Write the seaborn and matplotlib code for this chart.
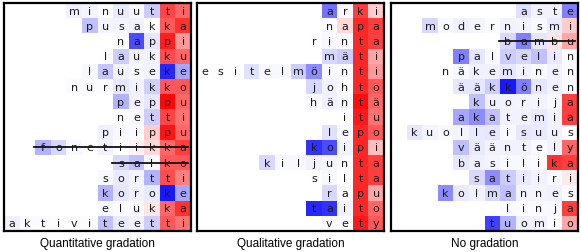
import matplotlib
matplotlib.use("Agg")
import matplotlib.pyplot as plt
import numpy as np
import seaborn as sns

N_COLS = 12

# Panel 1: quantitative gradation
quant_words = [
    "minuutti", "pusakka", "nappi", "laukku", "lauseke", "nurmikko", "peppu",
    "netti", "piippu", "fonetiikka", "salko", "sortti", "koroke", "elukka",
    "aktiviteetti",
]
quant_values = [
    [-0.06, -0.04, 0.0, -0.08, -0.03, -0.2, 0.72, 0.6],
    [-0.25, -0.04, -0.04, -0.06, 0.0, 0.65, 0.8],
    [0.0, -0.7, -0.1, 0.88, 0.4],
    [0.0, -0.2, -0.05, -0.05, 0.7, 0.6],
    [-0.03, -0.22, -0.05, -0.03, -0.05, -0.85, -0.35],
    [-0.02, -0.02, -0.02, -0.1, -0.05, -0.18, 0.65, 0.65],
    [-0.3, -0.05, -0.1, 0.97, 0.6],
    [0.0, -0.03, -0.2, 0.72, 0.55],
    [-0.06, -0.03, -0.02, 0.2, 0.92, 0.6],
    [-0.3, -0.15, -0.03, 0.0, -0.05, 0.0, 0.05, 0.15, 0.6, 0.75],
    [-0.15, -0.25, -0.03, 0.65, 0.65],
    [-0.03, -0.08, -0.04, -0.3, 0.7, 0.5],
    [-0.3, -0.1, -0.05, -0.08, -0.9, -0.35],
    [-0.03, -0.02, -0.02, 0.1, 0.6, 0.8],
    [-0.06, -0.02, -0.02, -0.01, -0.01, -0.01, -0.25, -0.08, -0.05, -0.2, 0.65, 0.55],
]
quant_struck = ["fonetiikka", "salko"]

# Panel 2: qualitative gradation
qual_words = [
    "arki", "napa", "rinta", "mäti", "esitelmöinti", "johto", "häntä", "itu",
    "lepo", "koipi", "kiljunta", "silta", "rapu", "taito", "vety",
]
qual_values = [
    [-0.55, -0.03, 0.75, 0.2],
    [-0.02, 0.15, 0.85, 0.75],
    [0.0, -0.03, -0.02, 0.85, 0.75],
    [-0.15, -0.2, 0.85, 0.35],
    [0.0, 0.0, 0.0, -0.12, -0.03, -0.03, -0.2, -0.45, -0.03, -0.02, 0.85, 0.4],
    [-0.15, -0.05, 0.0, 0.85, 0.65],
    [-0.02, -0.06, -0.03, 0.95, 0.6],
    [0.0, 0.9, 0.55],
    [-0.12, -0.03, 0.85, 0.65],
    [-0.8, -0.7, -0.05, 0.85, 0.25],
    [-0.15, -0.03, -0.03, -0.06, -0.04, -0.02, 0.85, 0.75],
    [0.0, -0.03, 0.0, 0.85, 0.75],
    [-0.15, -0.02, 0.85, 0.35],
    [-0.85, -0.8, -0.05, 0.85, 0.6],
    [-0.02, -0.02, 0.9, 0.65],
]
qual_struck = []

# Panel 3: no gradation
none_words = [
    "aste", "modernismi", "bambu", "palvelin", "näkeminen", "ääkkönen",
    "kuorija", "akatemia", "kuolleisuus", "vääntely", "basilika", "satiiri",
    "kolmannes", "linja", "tuomio",
]
none_values = [
    [-0.12, -0.05, -0.05, -0.5],
    [-0.15, -0.03, -0.06, -0.04, -0.02, -0.05, -0.04, -0.03, -0.08, 0.2],
    [-0.15, -0.5, -0.1, 0.1, 0.35],
    [-0.5, -0.1, -0.03, -0.2, -0.15, -0.25, -0.08, -0.02],
    [0.0, -0.03, -0.06, -0.06, -0.1, -0.05, -0.03, -0.05, -0.02],
    [-0.1, -0.1, -0.2, -0.9, -0.5, -0.1, -0.05, -0.02],
    [-0.25, -0.06, -0.05, -0.04, -0.04, -0.03, 0.75],
    [-0.35, -0.45, -0.25, -0.05, -0.05, -0.08, -0.05, 0.75],
    [-0.1, -0.04, -0.03, -0.04, -0.08, -0.1, -0.03, -0.1, -0.08, -0.05, 0.0],
    [-0.25, -0.08, -0.05, -0.05, -0.05, -0.03, -0.05, 0.6],
    [-0.1, -0.06, -0.04, -0.03, -0.03, -0.02, 0.8, 0.75],
    [-0.15, -0.45, -0.2, -0.08, -0.05, -0.03, 0.08],
    [-0.45, -0.08, -0.05, -0.15, -0.25, -0.04, -0.04, -0.06, -0.02],
    [-0.02, -0.01, -0.02, -0.03, 0.75],
    [-0.75, -0.3, -0.06, -0.05, -0.02, 0.35],
]
none_struck = ["bambu"]

titles = ["Quantitative gradation", "Qualitative gradation", "No gradation"]


def build_grid(words, values):
    grid = np.full((len(words), N_COLS), np.nan)
    letters = np.full((len(words), N_COLS), "", dtype=object)
    for row, (word, vals) in enumerate(zip(words, values)):
        start = N_COLS - len(word)
        grid[row, start:] = vals
        for k, ch in enumerate(word):
            letters[row, start + k] = ch
    return grid, letters


def draw_panel(ax, words, values, struck, title):
    grid, letters = build_grid(words, values)
    sns.heatmap(
        grid,
        ax=ax,
        cmap="bwr",
        vmin=-1,
        vmax=1,
        cbar=False,
        annot=letters,
        fmt="",
        annot_kws={"color": "#1a1a1a", "fontsize": 8, "family": "DejaVu Sans"},
        xticklabels=False,
        yticklabels=False,
    )
    # strike through the words that are excluded
    for row, word in enumerate(words):
        if word in struck:
            start = N_COLS - len(word)
            ax.plot([start - 0.05, N_COLS - 0.2], [row + 0.5, row + 0.5],
                    color="#111111", linewidth=1.3)
    for spine in ax.spines.values():
        spine.set_visible(True)
        spine.set_color("black")
        spine.set_linewidth(1.6)
    ax.set_xlabel(title, fontsize=8.5, family="Liberation Sans", labelpad=4)
    ax.tick_params(length=0)


fig = plt.figure(figsize=(5.81, 2.53), dpi=100)
lefts = [4, 197, 391]
panels = [
    (quant_words, quant_values, quant_struck),
    (qual_words, qual_values, qual_struck),
    (none_words, none_values, none_struck),
]
for left, (words, values, struck), title in zip(lefts, panels, titles):
    ax = fig.add_axes([left / 581, 21 / 253, 187 / 581, 228 / 253])
    draw_panel(ax, words, values, struck, title)

fig.savefig("out.png", dpi=100)
